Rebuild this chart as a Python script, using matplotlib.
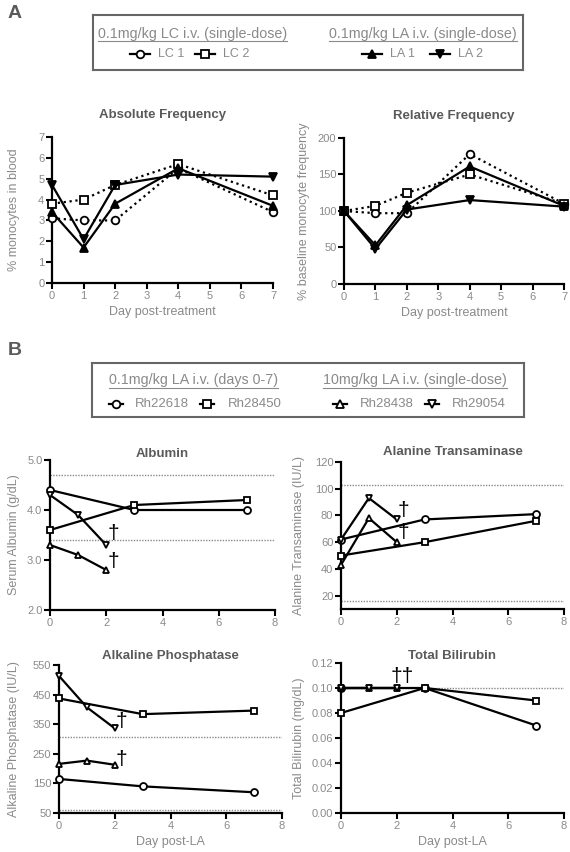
import matplotlib
matplotlib.use("Agg")
import matplotlib.pyplot as plt
from matplotlib.ticker import FormatStrFormatter

plt.rcParams['font.family'] = ['Liberation Sans', 'DejaVu Sans']

# ---- panel A data (day post-treatment) ----
days_a = [0, 1, 2, 4, 7]
abs_lc1 = [3.1, 3.0, 3.0, 5.5, 3.4]
abs_lc2 = [3.8, 4.0, 4.7, 5.7, 4.2]
abs_la1 = [3.4, 1.7, 3.8, 5.5, 3.7]
abs_la2 = [4.7, 2.1, 4.7, 5.2, 5.1]

rel_lc1 = [100, 97, 97, 178, 110]
rel_lc2 = [100, 107, 125, 150, 110]
rel_la1 = [100, 53, 108, 161, 107]
rel_la2 = [100, 48, 102, 115, 106]

# ---- panel B data (day post-LA) ----
days_long = [0, 3, 7]    # Rh22618, Rh28450
days_short = [0, 1, 2]   # Rh28438, Rh29054 (died after day 2)

alb_22618 = [4.4, 4.0, 4.0]
alb_28450 = [3.6, 4.1, 4.2]
alb_28438 = [3.3, 3.1, 2.8]
alb_29054 = [4.3, 3.9, 3.3]

alt_22618 = [62, 77, 81]
alt_28450 = [50, 60, 76]
alt_28438 = [43, 78, 60]
alt_29054 = [62, 93, 77]

alp_22618 = [165, 140, 120]
alp_28450 = [437, 384, 396]
alp_28438 = [216, 227, 213]
alp_29054 = [513, 407, 336]

tbil_22618 = [0.10, 0.10, 0.07]
tbil_28450 = [0.08, 0.10, 0.09]
tbil_28438 = [0.10, 0.10, 0.10]
tbil_29054 = [0.10, 0.10, 0.10]

# normal ranges (dotted reference lines)
alb_ref = [3.4, 4.7]
alt_ref = [16, 103]
alp_ref = [60, 306]
tbil_ref = [0.10]

# death markers
alb_dag = [(2.25, 3.53, "†"), (2.25, 2.97, "†")]
alt_dag = [(2.25, 84, "†"), (2.25, 67, "†")]
alp_dag = [(2.25, 359, "†"), (2.25, 230, "†")]
tbil_dag = [(2.2, 0.109, "††")]

W, H = 570, 852
GREY = "#8a8a8a"
DARK = "#5a5a5a"
fig = plt.figure(figsize=(W / 100, H / 100), dpi=100)


def px_axes(l, t, r, b):
    return fig.add_axes([l / W, 1 - b / H, (r - l) / W, (b - t) / H])


def style(ax, xlim, ylim, xticks, yticks, title, ylabel, xlabel=None,
          fmt=None, tpad=2, ylx=-0.15):
    ax.set_xlim(xlim)
    ax.set_ylim(ylim)
    ax.set_xticks(xticks)
    ax.set_yticks(yticks)
    if fmt:
        ax.yaxis.set_major_formatter(FormatStrFormatter(fmt))
    for s in ["top", "right"]:
        ax.spines[s].set_visible(False)
    for s in ["left", "bottom"]:
        ax.spines[s].set_linewidth(1.6)
    ax.tick_params(direction="out", length=4, width=1.5, color="black",
                   labelcolor=GREY, labelsize=8, pad=1.5)
    ax.set_title(title, fontsize=9.5, fontweight="bold", color=DARK, pad=tpad)
    ax.set_ylabel(ylabel, fontsize=9, color=GREY)
    ax.yaxis.set_label_coords(ylx, 0.5)
    if xlabel:
        ax.set_xlabel(xlabel, fontsize=9, color=GREY, labelpad=4)
    ax.set_facecolor("none")


def series(ax, x, y, marker, filled, ls="-", ms=5.5):
    ax.plot(x, y, color="black", lw=1.6, ls=ls, marker=marker, ms=ms,
            mfc="black" if filled else "white", mec="black", mew=1.3,
            clip_on=False, zorder=3)


# ---------------- panel A ----------------
ax1 = px_axes(52, 137, 273, 283)
series(ax1, days_a, abs_lc1, "o", False, ":")
series(ax1, days_a, abs_lc2, "s", False, ":")
series(ax1, days_a, abs_la1, "^", True)
series(ax1, days_a, abs_la2, "v", True)
style(ax1, (0, 7), (0, 7), range(8), range(8), "Absolute Frequency",
      "% monocytes in blood", "Day post-treatment", tpad=14, ylx=-0.145)

ax2 = px_axes(344, 138, 564, 284)
series(ax2, days_a, rel_lc1, "o", False, ":")
series(ax2, days_a, rel_lc2, "s", False, ":")
series(ax2, days_a, rel_la1, "^", True)
series(ax2, days_a, rel_la2, "v", True)
style(ax2, (0, 7), (0, 200), range(8), range(0, 201, 50), "Relative Frequency",
      "% baseline monocyte frequency", "Day post-treatment", tpad=14, ylx=-0.155)

# ---------------- panel B ----------------
def lab_panel(ax, v1, v2, v3, v4, refs, dags):
    for r in refs:
        ax.axhline(r, color=GREY, lw=1.0, ls=(0, (1, 1)), zorder=1)
    series(ax, days_long, v1, "o", False, ms=5)
    series(ax, days_long, v2, "s", False, ms=5)
    series(ax, days_short, v3, "^", False, ms=5)
    series(ax, days_short, v4, "v", False, ms=5)
    for x, y, t in dags:
        ax.text(x, y, t, fontsize=15, color="black", ha="center", va="center")


ax3 = px_axes(50, 460, 275, 610)
lab_panel(ax3, alb_22618, alb_28450, alb_28438, alb_29054, alb_ref, alb_dag)
style(ax3, (0, 8), (2.0, 5.0), range(0, 9, 2), [2.0, 3.0, 4.0, 5.0], "Albumin",
      "Serum Albumin (g/dL)", fmt="%.1f", tpad=2, ylx=-0.135)

ax4 = px_axes(341, 462, 564, 609)
lab_panel(ax4, alt_22618, alt_28450, alt_28438, alt_29054, alt_ref, alt_dag)
style(ax4, (0, 8), (10, 120), range(0, 9, 2), range(20, 121, 20),
      "Alanine Transaminase", "Alanine Transaminase (IU/L)", tpad=5, ylx=-0.16)

ax5 = px_axes(59, 665, 282, 813)
lab_panel(ax5, alp_22618, alp_28450, alp_28438, alp_29054, alp_ref, alp_dag)
style(ax5, (0, 8), (50, 550), range(0, 9, 2), range(50, 551, 100),
      "Alkaline Phosphatase", "Alkaline Phosphatase (IU/L)", "Day post-LA",
      tpad=4, ylx=-0.175)

ax6 = px_axes(341, 663, 564, 813)
lab_panel(ax6, tbil_22618, tbil_28450, tbil_28438, tbil_29054, tbil_ref, tbil_dag)
style(ax6, (0, 8), (0, 0.12), range(0, 9, 2), [0, 0.02, 0.04, 0.06, 0.08, 0.10, 0.12],
      "Total Bilirubin", "Total Bilirubin (mg/dL)", "Day post-LA", fmt="%.2f",
      tpad=3, ylx=-0.16)

# ---------------- legend boxes ----------------
fig.text(8 / W, 1 - 14 / H, "A", fontsize=14, fontweight="bold", color=DARK,
         va="center")
fig.text(8 / W, 1 - 350 / H, "B", fontsize=14, fontweight="bold", color=DARK,
         va="center")


def legend_box(l, t, r, b, headers, entries, efs, half):
    lax = px_axes(l, t, r, b)
    lax.set_xlim(0, r - l)
    lax.set_ylim(b - t, 0)
    lax.set_xticks([])
    lax.set_yticks([])
    for s in lax.spines.values():
        s.set_linewidth(1.5)
        s.set_color("#666666")
    texts = []
    for x, y, txt in headers:
        texts.append(lax.text(x, y, txt, fontsize=10.3, color=GREY, va="center"))
    for mx, tx, y, marker, filled, txt in entries:
        lax.plot([mx - half, mx + half], [y, y], color="black", lw=1.6)
        lax.plot([mx], [y], marker=marker, ms=5.5, color="black",
                 mfc="black" if filled else "white", mec="black", mew=1.3)
        lax.text(tx, y, txt, fontsize=efs, color=GREY, va="center")
    # underline the group headers
    fig.canvas.draw()
    inv = lax.transData.inverted()
    for t_ in texts:
        bb = t_.get_window_extent()
        x0, y0 = inv.transform((bb.x0, bb.y0))
        x1, _ = inv.transform((bb.x1, bb.y0))
        lax.plot([x0, x1], [y0 + 0.5, y0 + 0.5], color=GREY, lw=0.8)


legend_box(93, 15, 523, 70,
           [(5, 19, "0.1mg/kg LC i.v. (single-dose)"),
            (236, 19, "0.1mg/kg LA i.v. (single-dose)")],
           [(47, 65, 39, "o", False, "LC 1"),
            (112, 130, 39, "s", False, "LC 2"),
            (279, 297, 39, "^", True, "LA 1"),
            (347, 365, 39, "v", True, "LA 2")], 9, 10)

legend_box(92, 363, 524, 417,
           [(17, 17, "0.1mg/kg LA i.v. (days 0-7)"),
            (231, 17, "10mg/kg LA i.v. (single-dose)")],
           [(24, 43, 41, "o", False, "Rh22618"),
            (115, 136, 41, "s", False, "Rh28450"),
            (248, 268, 41, "^", False, "Rh28438"),
            (340, 360, 41, "v", False, "Rh29054")], 9.5, 7)

fig.savefig("out.png", dpi=100)
